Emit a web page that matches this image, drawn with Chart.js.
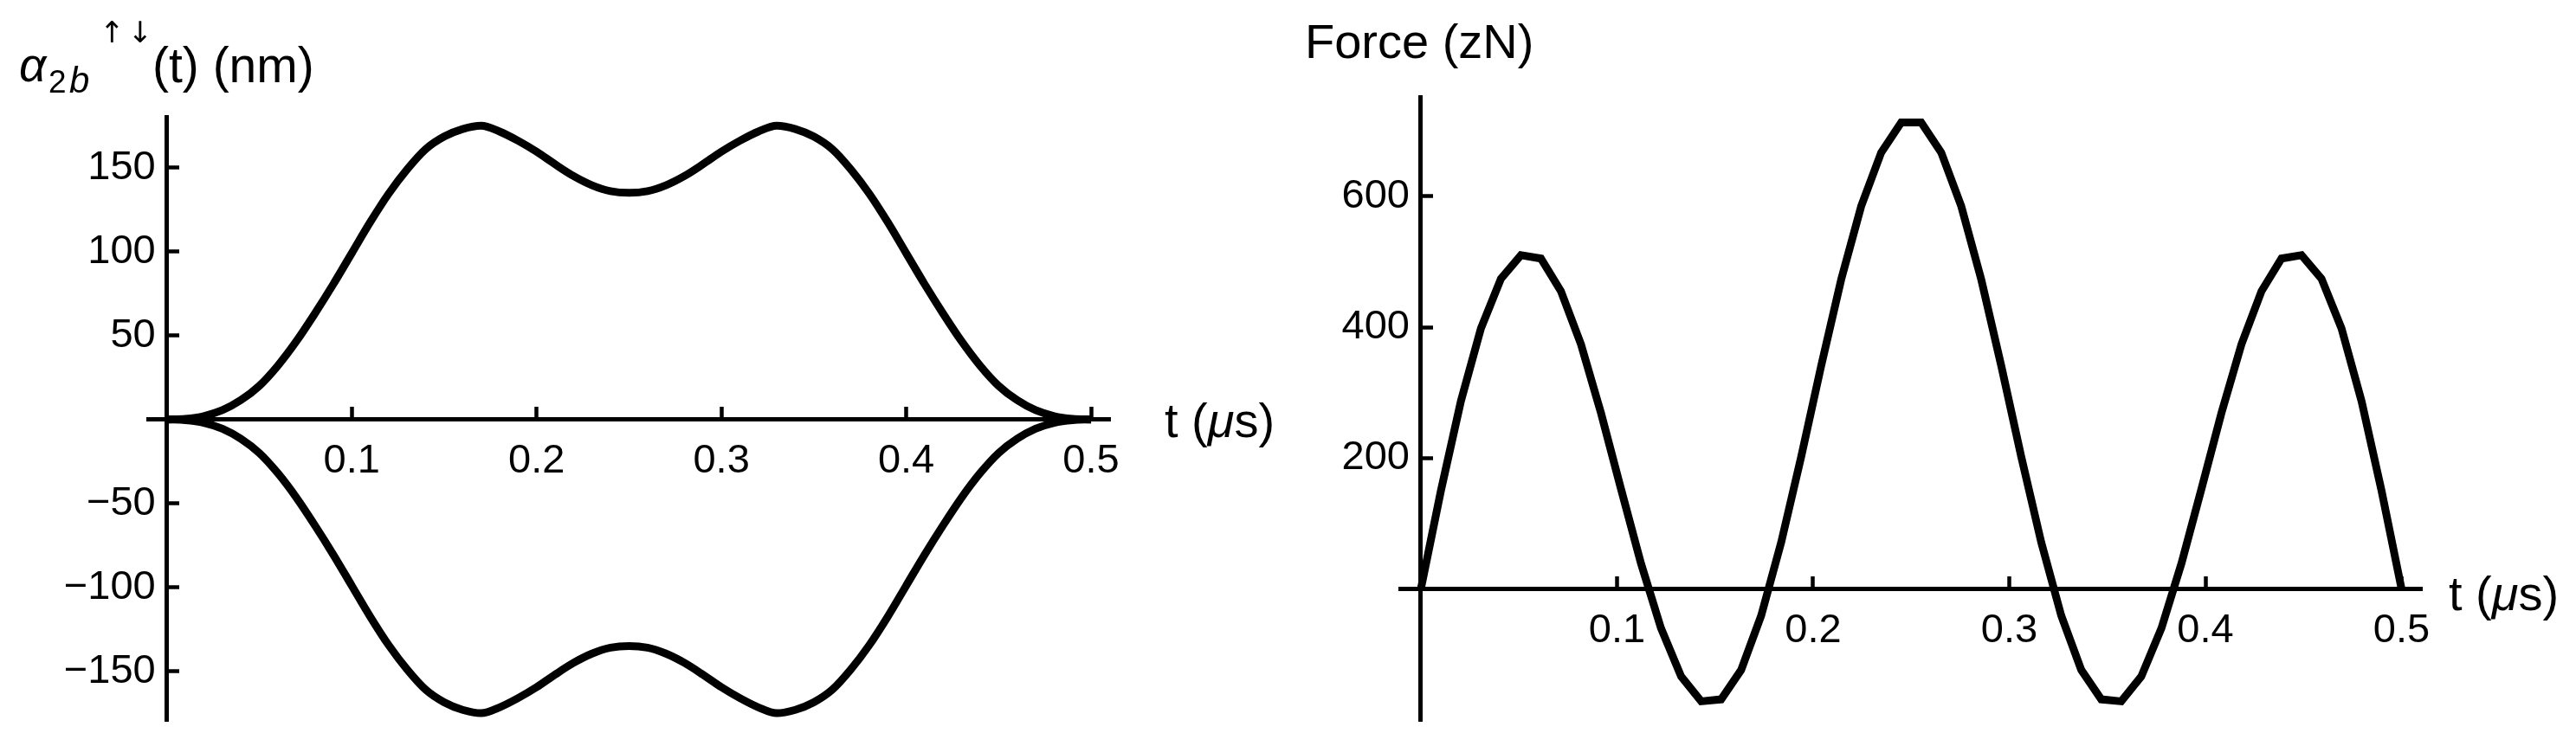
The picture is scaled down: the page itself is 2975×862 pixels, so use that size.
<!DOCTYPE html>
<html>
<head>
<meta charset="utf-8">
<script src="https://cdn.jsdelivr.net/npm/chart.js@4.4.0/dist/chart.umd.min.js"></script>
<style>
  body { margin: 0; background: #fff; }
  #wrap { position: relative; width: 2975px; height: 862px; overflow: hidden; font-family: 'Liberation Sans', Arial, sans-serif; color: #000; }
  canvas { position: absolute; top: 0; }
  .lbl { position: absolute; font-size: 56px; line-height: 56px; white-space: nowrap; }
  .txt { position: absolute; white-space: nowrap; }
</style>
</head>
<body>
<div id="wrap">
  <canvas id="alphaChart" width="1330" height="862" style="left:0"></canvas>
  <canvas id="forceChart" width="1475" height="862" style="left:1500px"></canvas>

  <div class="txt" style="left:22px; top:48px; font-size:55px; line-height:55px; font-style:italic">α</div>
  <div class="txt" style="left:56px; top:75.6px; font-size:37px; line-height:37px">2</div>
  <div class="txt" style="left:80px; top:71.5px; font-size:42px; line-height:42px; font-style:italic">b</div>
  <div class="txt" style="left:115px; top:20px; font-size:34px; line-height:34px; font-family:'DejaVu Sans'; letter-spacing:4px">↑↓</div>
  <div class="txt" style="left:176px; top:46.8px; font-size:57px; line-height:57px">(t) (nm)</div>
  <div class="lbl" style="left:1345px; top:458px">t (<i>μ</i>s)</div>

  <div class="lbl" style="left:1507px; top:20px">Force (zN)</div>
  <div class="lbl" style="left:2828px; top:658px">t (<i>μ</i>s)</div>
</div>
<script>
// left panel: alpha(t) in nm, both branches
const alphaTime = [0, 0.01, 0.02, 0.03, 0.04, 0.05, 0.06, 0.07, 0.08, 0.09,
    0.1, 0.11, 0.12, 0.13, 0.14, 0.15, 0.16, 0.17, 0.18, 0.19,
    0.2, 0.21, 0.22, 0.23, 0.24, 0.25, 0.26, 0.27, 0.28, 0.29,
    0.3, 0.31, 0.32, 0.33, 0.34, 0.35, 0.36, 0.37, 0.38, 0.39,
    0.4, 0.41, 0.42, 0.43, 0.44, 0.45, 0.46, 0.47, 0.48, 0.49, 0.5];
const alphaUp = [0, 0.4, 2, 5.5, 11.5, 20, 32, 46.5, 63, 80.5,
    99, 117.5, 134.5, 149, 161, 168.5, 173, 175, 171.5, 166,
    159.5, 152, 145, 139.5, 136, 135, 136, 139.5, 145, 152,
    159.5, 166, 171.5, 175, 173, 168.5, 161, 149, 134.5, 117.5,
    99, 80.5, 63, 46.5, 32, 20, 11.5, 5.5, 2, 0.4, 0];
const alphaDown = [0, -0.4, -2, -5.5, -11.5, -20, -32, -46.5, -63, -80.5,
    -99, -117.5, -134.5, -149, -161, -168.5, -173, -175, -171.5, -166,
    -159.5, -152, -145, -139.5, -136, -135, -136, -139.5, -145, -152,
    -159.5, -166, -171.5, -175, -173, -168.5, -161, -149, -134.5, -117.5,
    -99, -80.5, -63, -46.5, -32, -20, -11.5, -5.5, -2, -0.4, 0];
const alphaXTicks = [0.1, 0.2, 0.3, 0.4, 0.5];
const alphaYTicks = [-150, -100, -50, 50, 100, 150];

// right panel: force in zN, sampled points
const forceTime = [0, 0.0102, 0.0204, 0.0306, 0.0408, 0.051, 0.0612, 0.0714, 0.0816, 0.0918,
    0.102, 0.1122, 0.1224, 0.1327, 0.1429, 0.1531, 0.1633, 0.1735, 0.1837, 0.1939,
    0.2041, 0.2143, 0.2245, 0.2347, 0.2449, 0.2551, 0.2653, 0.2755, 0.2857, 0.2959,
    0.3061, 0.3163, 0.3265, 0.3367, 0.3469, 0.3571, 0.3673, 0.3776, 0.3878, 0.398,
    0.4082, 0.4184, 0.4286, 0.4388, 0.449, 0.4592, 0.4694, 0.4796, 0.4898, 0.5];
const forceValues = [0, 150, 287, 398, 474, 510, 505, 455, 374, 269,
    153, 39, -60, -134, -172, -169, -124, -41, 71, 202,
    341, 473, 585, 667, 713, 713, 667, 585, 473, 341,
    202, 71, -41, -124, -169, -172, -134, -60, 39, 153,
    269, 374, 455, 505, 510, 474, 398, 287, 150, 0];
const forceXTicks = [0.1, 0.2, 0.3, 0.4, 0.5];
const forceYTicks = [200, 400, 600];

const FONT = { family: "'Liberation Sans', Arial, sans-serif", size: 47 };

function fmtY(v) {
    return (v < 0 ? '\u2212' + (-v) : String(v)) + ' ';
}

function axis(isY, min, max, tickValues) {
    return {
        type: 'linear',
        min: min,
        max: max,
        position: isY ? { x: 0 } : { y: 0 },
        afterBuildTicks: s => { s.ticks = tickValues.map(v => ({ value: v })); },
        afterFit: s => { if (isY) s.width = 0; else s.height = 0; },
        border: { display: true, color: '#000', width: 5 },
        grid: { display: true, drawOnChartArea: false, drawTicks: true, tickLength: -17, tickWidth: 4.5, tickColor: '#000' },
        ticks: {
            color: '#000',
            font: FONT,
            padding: isY ? 0 : 37,
            autoSkip: false,
            maxRotation: 0,
            callback: v => isY ? fmtY(v) : String(v)
        }
    };
}

function lineSet(xs, ys, smooth) {
    return {
        data: xs.map((t, i) => ({ x: t, y: ys[i] })),
        borderColor: '#000',
        borderWidth: 9,
        pointRadius: 0,
        fill: false,
        tension: 0,
        cubicInterpolationMode: smooth ? 'monotone' : 'default'
    };
}

function makeChart(id, datasets, xr, yr, xTicks, yTicks, pad) {
    return new Chart(document.getElementById(id), {
        type: 'line',
        data: { datasets: datasets },
        options: {
            responsive: false,
            animation: false,
            devicePixelRatio: 1,
            layout: { padding: pad },
            plugins: { legend: { display: false }, tooltip: { enabled: false } },
            scales: {
                x: axis(false, xr[0], xr[1], xTicks),
                y: axis(true, yr[0], yr[1], yTicks)
            }
        }
    });
}

makeChart('alphaChart',
    [lineSet(alphaTime, alphaUp, true), lineSet(alphaTime, alphaDown, true)],
    [-0.0102, 0.5105], [-180, 180], alphaXTicks, alphaYTicks,
    { left: 171, right: 16, top: 135.5, bottom: 19.5 });

makeChart('forceChart',
    [lineSet(forceTime, forceValues, false)],
    [-0.0105, 0.5105], [-203, 752], forceXTicks, forceYTicks,
    { left: 117.2, right: 177.7, top: 112, bottom: 20 });
</script>
</body>
</html>
